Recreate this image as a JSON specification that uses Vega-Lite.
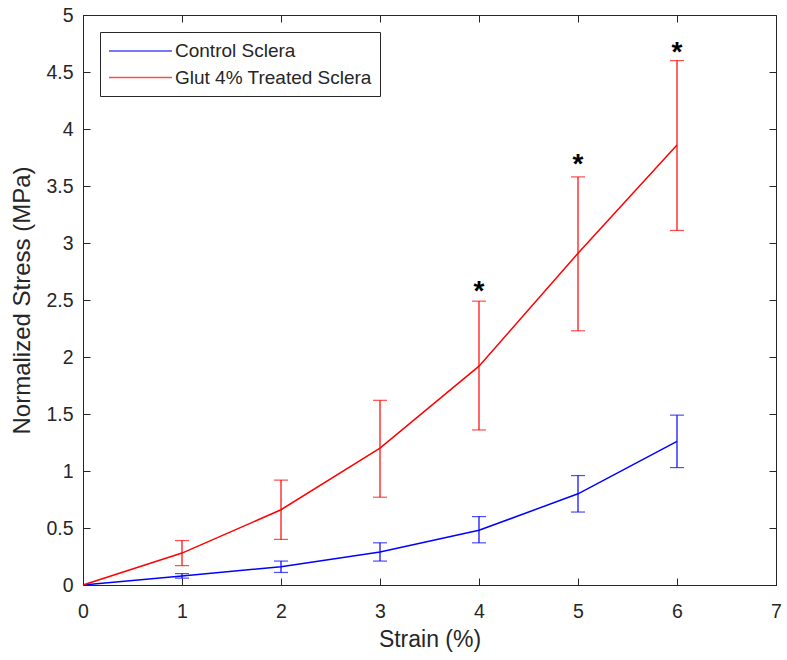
{
  "$schema": "https://vega.github.io/schema/vega-lite/v6.json",
  "width": 693,
  "height": 570,
  "autosize": "none",
  "padding": {"left": 83, "top": 15, "right": 11, "bottom": 75},
  "background": "white",
  "config": {
    "font": "Liberation Sans",
    "view": {"stroke": "#262626", "strokeWidth": 1},
    "axis": {
      "grid": false,
      "domainColor": "#262626",
      "tickColor": "#262626",
      "labelColor": "#262626",
      "titleColor": "#262626",
      "labelFont": "Liberation Sans",
      "titleFont": "Liberation Sans",
      "labelFontSize": 19.5,
      "titleFontSize": 23,
      "titleFontWeight": "normal",
      "labelFlush": false,
      "tickSize": -7
    },
    "legend": {
      "orient": "top-left",
      "offset": 17,
      "fillColor": "white",
      "strokeColor": "#262626",
      "padding": 8,
      "symbolType": "M-3.15,0H3.15",
      "symbolSize": 400,
      "symbolOffset": 21.5,
      "symbolStrokeWidth": 1.5,
      "labelFontSize": 19,
      "labelFont": "Liberation Sans",
      "labelColor": "#262626",
      "labelOffset": 23.5,
      "labelLimit": 400,
      "rowPadding": 5.5
    }
  },
  "datasets": {
    "series": [
      {"strain": 0, "group": "Control Sclera", "stress": 0, "lo": null, "hi": null},
      {"strain": 1, "group": "Control Sclera", "stress": 0.08, "lo": 0.06, "hi": 0.10},
      {"strain": 2, "group": "Control Sclera", "stress": 0.16, "lo": 0.11, "hi": 0.21},
      {"strain": 3, "group": "Control Sclera", "stress": 0.29, "lo": 0.21, "hi": 0.37},
      {"strain": 4, "group": "Control Sclera", "stress": 0.48, "lo": 0.37, "hi": 0.60},
      {"strain": 5, "group": "Control Sclera", "stress": 0.80, "lo": 0.64, "hi": 0.96},
      {"strain": 6, "group": "Control Sclera", "stress": 1.26, "lo": 1.03, "hi": 1.49},
      {"strain": 0, "group": "Glut 4% Treated Sclera", "stress": 0, "lo": null, "hi": null},
      {"strain": 1, "group": "Glut 4% Treated Sclera", "stress": 0.28, "lo": 0.17, "hi": 0.39},
      {"strain": 2, "group": "Glut 4% Treated Sclera", "stress": 0.66, "lo": 0.40, "hi": 0.92},
      {"strain": 3, "group": "Glut 4% Treated Sclera", "stress": 1.20, "lo": 0.77, "hi": 1.62},
      {"strain": 4, "group": "Glut 4% Treated Sclera", "stress": 1.92, "lo": 1.36, "hi": 2.49},
      {"strain": 5, "group": "Glut 4% Treated Sclera", "stress": 2.91, "lo": 2.23, "hi": 3.58},
      {"strain": 6, "group": "Glut 4% Treated Sclera", "stress": 3.86, "lo": 3.11, "hi": 4.60}
    ],
    "stars": [
      {"strain": 4, "pos": 2.57, "label": "*"},
      {"strain": 5, "pos": 3.68, "label": "*"},
      {"strain": 6, "pos": 4.67, "label": "*"}
    ]
  },
  "layer": [
    {
      "data": {"name": "series"},
      "mark": {"type": "line", "strokeWidth": 1.5},
      "encoding": {
        "x": {"field": "strain", "type": "quantitative", "scale": {"domain": [0, 7], "nice": false},
              "axis": {"title": "Strain (%)", "values": [0,1,2,3,4,5,6,7], "labelPadding": 24, "titlePadding": 8}},
        "y": {"field": "stress", "type": "quantitative", "scale": {"domain": [0, 5], "nice": false},
              "axis": {"title": "Normalized Stress (MPa)", "titleFontSize": 24, "values": [0,0.5,1,1.5,2,2.5,3,3.5,4,4.5,5], "format": "~g", "labelPadding": 17, "titlePadding": 11}},
        "color": {"field": "group", "type": "nominal", "title": null,
                  "scale": {"domain": ["Control Sclera", "Glut 4% Treated Sclera"], "range": ["#0000ff", "#ff0000"]}}
      }
    },
    {
      "data": {"name": "series"},
      "transform": [{"filter": "datum.lo != null"}],
      "mark": {"type": "rule", "strokeWidth": 1.2},
      "encoding": {
        "x": {"field": "strain", "type": "quantitative", "axis": null},
        "y": {"field": "lo", "type": "quantitative", "axis": null},
        "y2": {"field": "hi"},
        "color": {"field": "group", "type": "nominal"}
      }
    },
    {
      "data": {"name": "series"},
      "transform": [{"filter": "datum.lo != null"}],
      "mark": {"type": "tick", "orient": "horizontal", "size": 14, "thickness": 1.2},
      "encoding": {
        "x": {"field": "strain", "type": "quantitative", "axis": null},
        "y": {"field": "lo", "type": "quantitative", "axis": null},
        "color": {"field": "group", "type": "nominal"}
      }
    },
    {
      "data": {"name": "series"},
      "transform": [{"filter": "datum.lo != null"}],
      "mark": {"type": "tick", "orient": "horizontal", "size": 14, "thickness": 1.2},
      "encoding": {
        "x": {"field": "strain", "type": "quantitative", "axis": null},
        "y": {"field": "hi", "type": "quantitative", "axis": null},
        "color": {"field": "group", "type": "nominal"}
      }
    },
    {
      "data": {"name": "stars"},
      "mark": {"type": "text", "fontSize": 28, "fontWeight": "bold", "baseline": "middle", "align": "center", "color": "#000000"},
      "encoding": {
        "x": {"field": "strain", "type": "quantitative",
              "axis": {"orient": "top", "title": null, "labels": false, "values": [0,1,2,3,4,5,6,7], "domain": false}},
        "y": {"field": "pos", "type": "quantitative",
              "axis": {"orient": "right", "title": null, "labels": false, "values": [0,0.5,1,1.5,2,2.5,3,3.5,4,4.5,5], "domain": false}},
        "text": {"field": "label"}
      }
    }
  ],
  "resolve": {"axis": {"x": "independent", "y": "independent"}}
}
